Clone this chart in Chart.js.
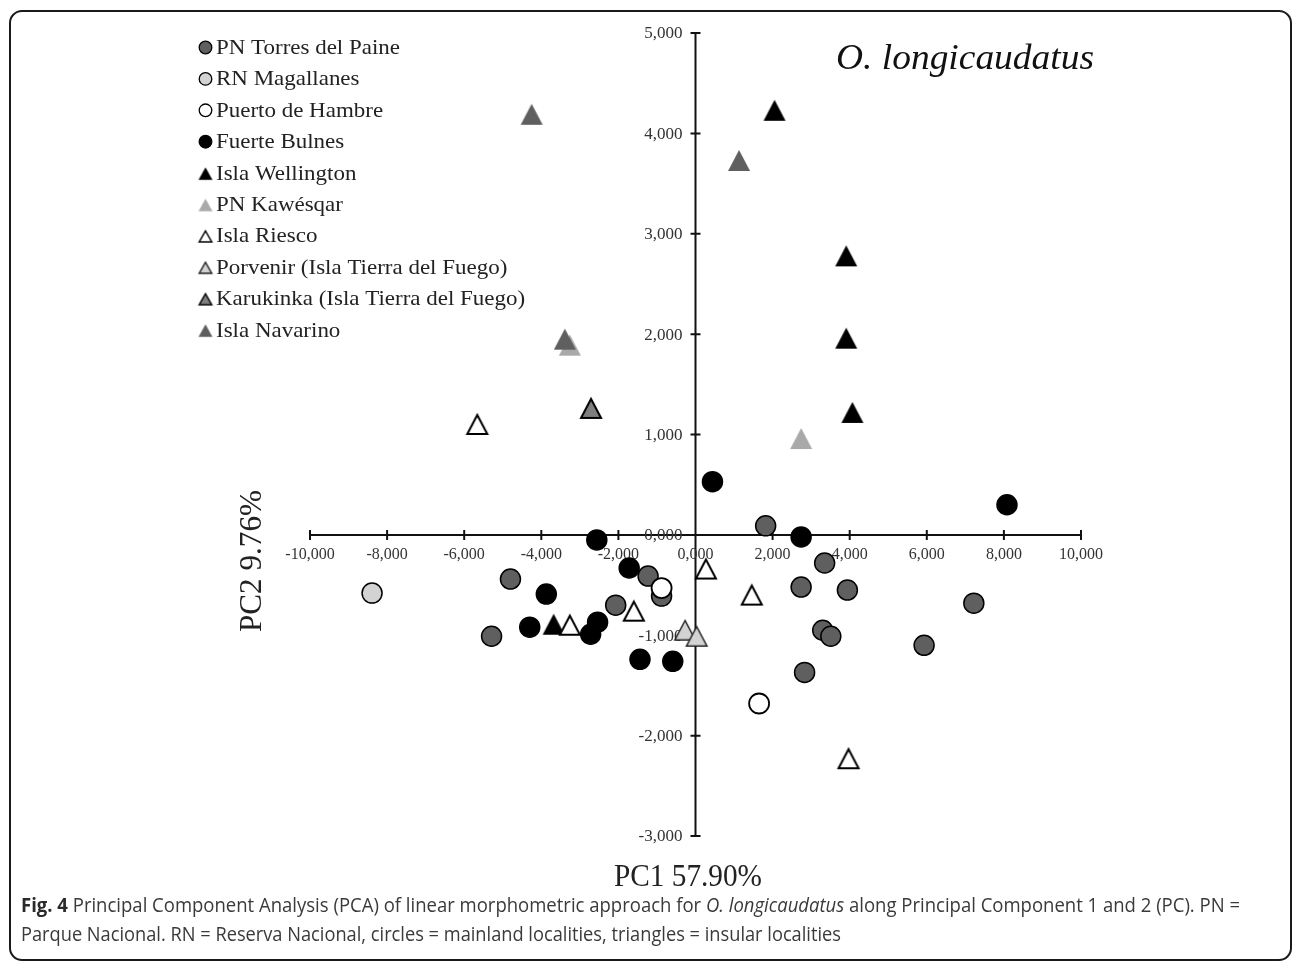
<!DOCTYPE html>
<html><head><meta charset="utf-8">
<script src="https://cdn.jsdelivr.net/npm/chart.js@4.4.1/dist/chart.umd.min.js"></script>
<style>
html,body{margin:0;padding:0;background:#fff;}
#wrap{position:relative;width:1296px;height:965px;overflow:hidden;background:#fff;}
#frame{position:absolute;left:9px;top:10px;width:1283px;height:951px;border:2px solid #1a1a1a;border-radius:13px;box-sizing:border-box;}
#c{position:absolute;left:0;top:0;}
.cap{position:absolute;left:21px;font-family:'Open Sans',sans-serif;font-size:20px;line-height:28px;color:#3a3a3a;white-space:nowrap;transform-origin:0 0;}
.cap b{color:#2a2a2a;}
</style></head><body>
<div id="wrap">
<div id="frame"></div>
<canvas id="c" width="1296" height="965"></canvas>
<div class="cap" id="cap1" style="top:891px"><b>Fig. 4</b> Principal Component Analysis (PCA) of linear morphometric approach for <i>O. longicaudatus</i> along Principal Component 1 and 2 (PC). PN =</div>
<div class="cap" id="cap2" style="top:920px">Parque Nacional. RN = Reserva Nacional, circles = mainland localities, triangles = insular localities</div>
</div>
<script>
// ---------- data ----------
const seriesNames = ['PN Torres del Paine','RN Magallanes','Puerto de Hambre','Fuerte Bulnes','Isla Wellington','PN Kawésqar','Isla Riesco','Porvenir (Isla Tierra del Fuego)','Karukinka (Isla Tierra del Fuego)','Isla Navarino'];
const torresX = [-4.80,-5.29,-2.07,-1.23,-0.88,1.82,3.35,2.74,3.94,7.22,3.30,3.51,5.93,2.83];
const torresY = [-0.44,-1.01,-0.70,-0.41,-0.61,0.09,-0.28,-0.52,-0.55,-0.68,-0.95,-1.01,-1.10,-1.37];
const magallanesX = [-8.39];
const magallanesY = [-0.58];
const hambreX = [-0.88,1.65];
const hambreY = [-0.53,-1.68];
const bulnesX = [-3.87,-4.30,-2.54,-2.72,-1.72,-1.44,-0.59,-2.56,0.44,8.08,2.74];
const bulnesY = [-0.59,-0.92,-0.87,-0.99,-0.33,-1.24,-1.26,-0.05,0.53,0.30,-0.02];
const wellingtonX = [-3.68,2.05,3.91,3.91,4.07];
const wellingtonY = [-0.89,4.23,2.78,1.96,1.22];
const kawesqarX = [2.74,-3.26];
const kawesqarY = [0.96,1.89];
const riescoX = [-5.66,-3.26,-1.60,0.27,1.46,3.97];
const riescoY = [1.10,-0.90,-0.76,-0.34,-0.60,-2.23];
const porvenirX = [-0.27,0.03];
const porvenirY = [-0.95,-1.01];
const karukinkaX = [-2.71];
const karukinkaY = [1.26];
const navarinoX = [-4.25,1.13,-3.39];
const navarinoY = [4.19,3.73,1.95];
const xTickValues = [-10,-8,-6,-4,-2,0,2,4,6,8,10];
const xTickLabels = ['-10,000','-8,000','-6,000','-4,000','-2,000','0,000','2,000','4,000','6,000','8,000','10,000'];
const yTickValues = [-3,-2,-1,0,1,2,3,4,5];
const yTickLabels = ['-3,000','-2,000','-1,000','0,000','1,000','2,000','3,000','4,000','5,000'];
const xAxisTitle = 'PC1 57.90%';
const yAxisTitle = 'PC2 9.76%';
const chartTitle = 'O. longicaudatus';

const seriesX = [torresX,magallanesX,hambreX,bulnesX,wellingtonX,kawesqarX,riescoX,porvenirX,karukinkaX,navarinoX];
const seriesY = [torresY,magallanesY,hambreY,bulnesY,wellingtonY,kawesqarY,riescoY,porvenirY,karukinkaY,navarinoY];

// ---------- styles ----------
const styles = [
  {shape:'circle', fill:'#5f5f5f', stroke:'#000', lw:1.5},
  {shape:'circle', fill:'#d3d3d3', stroke:'#000', lw:1.5},
  {shape:'circle', fill:'#ffffff', stroke:'#000', lw:1.8},
  {shape:'circle', fill:'#000000', stroke:'#000', lw:1.5},
  {shape:'tri', fill:'#000000', stroke:null, lw:0},
  {shape:'tri', fill:'#a9a9a9', stroke:null, lw:0},
  {shape:'tri', fill:'#ffffff', stroke:'#000', lw:2},
  {shape:'tri', fill:'#d3d3d3', stroke:'#222', lw:1.5},
  {shape:'tri', fill:'#7f7f7f', stroke:'#000', lw:2},
  {shape:'tri', fill:'#5f5f5f', stroke:null, lw:0}
];

function makeTri(w, h, fill, stroke, lw) {
  const pad = 3;
  const cv = document.createElement('canvas');
  cv.width = Math.ceil(w + 2*pad); cv.height = Math.ceil(h + 2*pad);
  const ctx = cv.getContext('2d');
  const cx = cv.width/2, cy = cv.height/2;
  const inset = stroke ? lw/2 : 0;
  ctx.beginPath();
  ctx.moveTo(cx, cy - h/2 + inset);
  ctx.lineTo(cx + w/2 - inset, cy + h/2 - inset);
  ctx.lineTo(cx - w/2 + inset, cy + h/2 - inset);
  ctx.closePath();
  ctx.fillStyle = fill; ctx.fill();
  if (stroke) { ctx.lineWidth = lw; ctx.strokeStyle = stroke; ctx.lineJoin = 'miter'; ctx.stroke(); }
  return cv;
}

const datasets = seriesNames.map((name, i) => {
  const st = styles[i];
  const data = seriesX[i].map((x, k) => ({x: x, y: seriesY[i][k]}));
  const ds = {label: name, data: data, order: seriesNames.length - i};
  if (st.shape === 'circle') {
    Object.assign(ds, {pointStyle:'circle', pointRadius:10, pointBackgroundColor:st.fill, pointBorderColor:st.stroke, pointBorderWidth:st.lw});
  } else {
    Object.assign(ds, {pointStyle: makeTri(22, 21, st.fill, st.stroke, st.lw), pointRadius:11});
  }
  return ds;
});
const legendTris = styles.map(st => st.shape === 'tri' ? makeTri(14, 12.5, st.fill, st.stroke, Math.min(st.lw, 1.5)) : null);

function drawText(ctx, s, x, y, font, align, sx, color, baseline) {
  ctx.save();
  ctx.font = font; ctx.fillStyle = color; ctx.textAlign = align; ctx.textBaseline = baseline || 'middle';
  ctx.translate(x, y); ctx.scale(sx, 1); ctx.fillText(s, 0, 0);
  ctx.restore();
}
function fitScale(ctx, s, font, target) {
  ctx.save(); ctx.font = font; const w = ctx.measureText(s).width; ctx.restore();
  return target / w;
}

const pcaAxes = {
  id: 'pcaAxes',
  beforeDatasetsDraw(chart) {
    const ctx = chart.ctx, xs = chart.scales.x, ys = chart.scales.y;
    const x0 = xs.getPixelForValue(0), y0 = ys.getPixelForValue(0);
    ctx.save();
    ctx.strokeStyle = '#111'; ctx.lineWidth = 2; ctx.lineCap = 'butt';
    ctx.beginPath();
    ctx.moveTo(xs.getPixelForValue(xTickValues[0]), y0);
    ctx.lineTo(xs.getPixelForValue(xTickValues[xTickValues.length-1]), y0);
    ctx.moveTo(x0, ys.getPixelForValue(yTickValues[yTickValues.length-1]));
    ctx.lineTo(x0, ys.getPixelForValue(yTickValues[0]));
    xTickValues.forEach(v => { const p = xs.getPixelForValue(v); ctx.moveTo(p, y0 - 5); ctx.lineTo(p, y0 + 5); });
    yTickValues.forEach(v => { const p = ys.getPixelForValue(v); ctx.moveTo(x0 - 5, p); ctx.lineTo(x0 + 5, p); });
    ctx.stroke();
    ctx.restore();
    const tf = '16px "Liberation Serif"';
    const tfy = '17px "Liberation Serif"';
    xTickValues.forEach((v, i) => drawText(ctx, xTickLabels[i], xs.getPixelForValue(v), y0 + 20, tf, 'center', 1.0, '#333'));
    yTickValues.forEach((v, i) => drawText(ctx, yTickLabels[i], x0 - 13, ys.getPixelForValue(v) + 1, tfy, 'right', 1.0, '#333'));
  },
  afterDraw(chart) {
    const ctx = chart.ctx;
    const titleFont = 'italic 35px "Liberation Serif"';
    drawText(ctx, chartTitle, 836, 60, titleFont, 'left', fitScale(ctx, chartTitle, titleFont, 258), '#111');
    const atFont = '32px "Liberation Serif"';
    drawText(ctx, xAxisTitle, 688, 878, atFont, 'center', fitScale(ctx, xAxisTitle, atFont, 148), '#222');
    ctx.save();
    ctx.translate(253, 561); ctx.rotate(-Math.PI/2);
    drawText(ctx, yAxisTitle, 0, 0, atFont, 'center', fitScale(ctx, yAxisTitle, atFont, 142), '#222');
    ctx.restore();
    const lf = '21px "Liberation Serif"';
    const lsx = fitScale(ctx, seriesNames[0], lf, 184);
    seriesNames.forEach((name, i) => {
      const y = 47.5 + i * 31.4, mx = 205.5;
      const st = styles[i];
      if (st.shape === 'circle') {
        ctx.save(); ctx.beginPath(); ctx.arc(mx, y, 6.3, 0, Math.PI*2); ctx.fillStyle = st.fill; ctx.fill();
        ctx.lineWidth = 1.3; ctx.strokeStyle = st.stroke; ctx.stroke(); ctx.restore();
      } else {
        const im = legendTris[i];
        ctx.drawImage(im, mx - im.width/2, y - im.height/2 + 0.5);
      }
      drawText(ctx, name, 216, y + 1, lf, 'left', lsx, '#222');
    });
  }
};

new Chart(document.getElementById('c'), {
  type: 'scatter',
  data: { datasets: datasets },
  options: {
    responsive: false,
    animation: false,
    layout: { padding: { left: 310, right: 215, top: 33, bottom: 129 } },
    scales: {
      x: { type: 'linear', min: -10, max: 10, display: false },
      y: { type: 'linear', min: -3, max: 5, display: false }
    },
    plugins: { legend: { display: false }, tooltip: { enabled: false } }
  },
  plugins: [pcaAxes]
});

function fitCap(id, target) {
  const el = document.getElementById(id);
  const w = el.getBoundingClientRect().width;
  el.style.transform = 'scaleX(' + (target / w) + ')';
}
fitCap('cap1', 1219);
fitCap('cap2', 820);
</script>
</body></html>
